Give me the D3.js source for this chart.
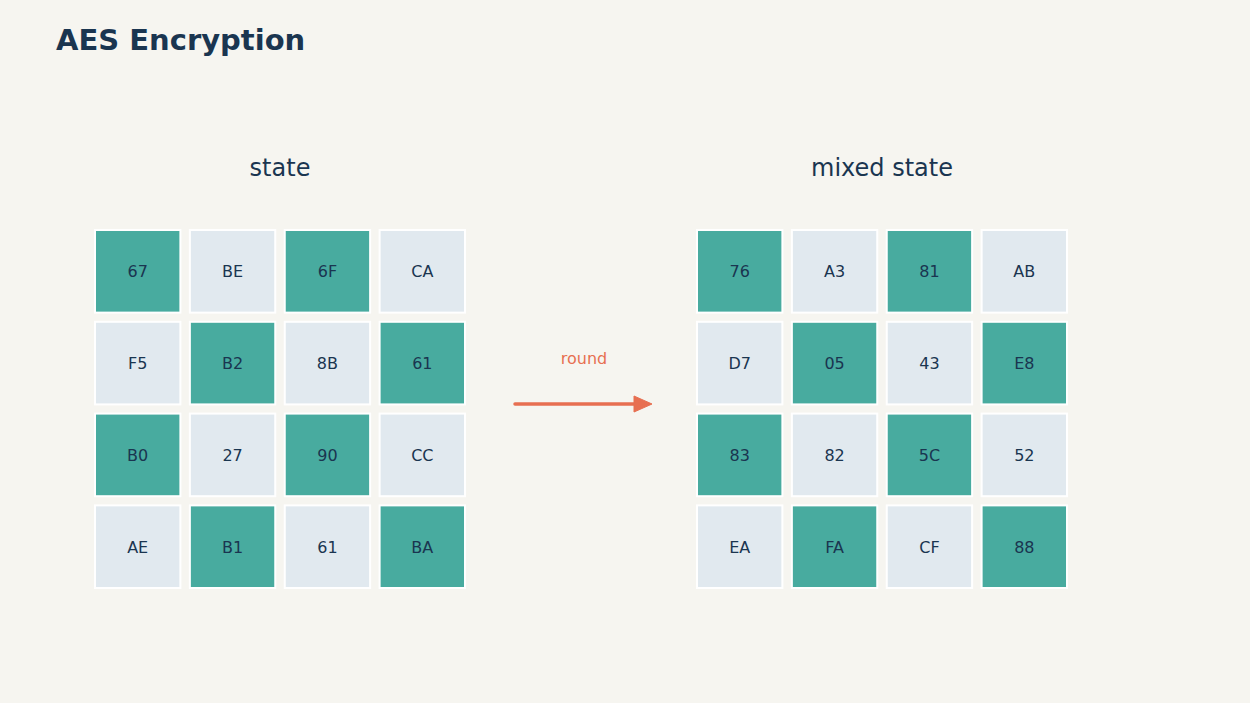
<!DOCTYPE html><html><head><script src="https://cdn.jsdelivr.net/npm/d3@7"></script>
<style>body{margin:0;background:#f6f5f0}</style></head><body><svg id="c" width="1250" height="703"></svg>
<script>
const stateVals=[["67","BE","6F","CA"],["F5","B2","8B","61"],["B0","27","90","CC"],["AE","B1","61","BA"]];
const mixedVals=[["76","A3","81","AB"],["D7","05","43","E8"],["83","82","5C","52"],["EA","FA","CF","88"]];
const gridTitles=["state","mixed state"];
const arrowLabel="round";
const svg=d3.select("#c");
svg.append("rect").attr("width",1250).attr("height",703).attr("fill","#f6f5f0");
svg.append("text").attr("x",56).attr("y",50).text("AES Encryption").attr("font-family","DejaVu Sans").attr("font-weight","bold").attr("font-size",29).attr("fill","#1a3550");
const idx=[0,1,2,3];
function grid(vals,x0,title){
  const x=d3.scaleBand().domain(idx).range([x0,x0+370]).paddingInner(0.1);
  const y=d3.scaleBand().domain(idx).range([230,588]).paddingInner(0.1);
  svg.append("text").attr("x",x0+185).attr("y",176).attr("text-anchor","middle").text(title).attr("font-family","DejaVu Sans").attr("font-size",24).attr("fill","#1a3550");
  const cells=[];vals.forEach((r,i)=>r.forEach((v,j)=>cells.push({i,j,v})));
  const g=svg.append("g").selectAll("g").data(cells).join("g");
  g.append("rect").attr("x",d=>x(d.j)).attr("y",d=>y(d.i)).attr("width",x.bandwidth()).attr("height",y.bandwidth())
   .attr("fill",d=>(d.i+d.j)%2==0?"#48ab9f":"#e1e9ef").attr("stroke","#ffffff").attr("stroke-width",2);
  g.append("text").attr("x",d=>x(d.j)+x.bandwidth()/2).attr("y",d=>y(d.i)+y.bandwidth()/2+6).attr("text-anchor","middle")
   .text(d=>d.v).attr("font-family","DejaVu Sans").attr("font-size",16).attr("fill","#1a3550");
}
grid(stateVals,95,gridTitles[0]);
grid(mixedVals,697,gridTitles[1]);
svg.append("line").attr("x1",515).attr("x2",638).attr("y1",404).attr("y2",404).attr("stroke","#e76f51").attr("stroke-width",3.5).attr("stroke-linecap","round");
svg.append("path").attr("d","M634,396 L652,404 L634,412 Z").attr("fill","#e76f51").attr("stroke","#e76f51").attr("stroke-linejoin","round");
svg.append("text").attr("x",584).attr("y",364).attr("text-anchor","middle").text(arrowLabel).attr("font-family","DejaVu Sans").attr("font-size",16).attr("fill","#e76f51");
</script></body></html>
